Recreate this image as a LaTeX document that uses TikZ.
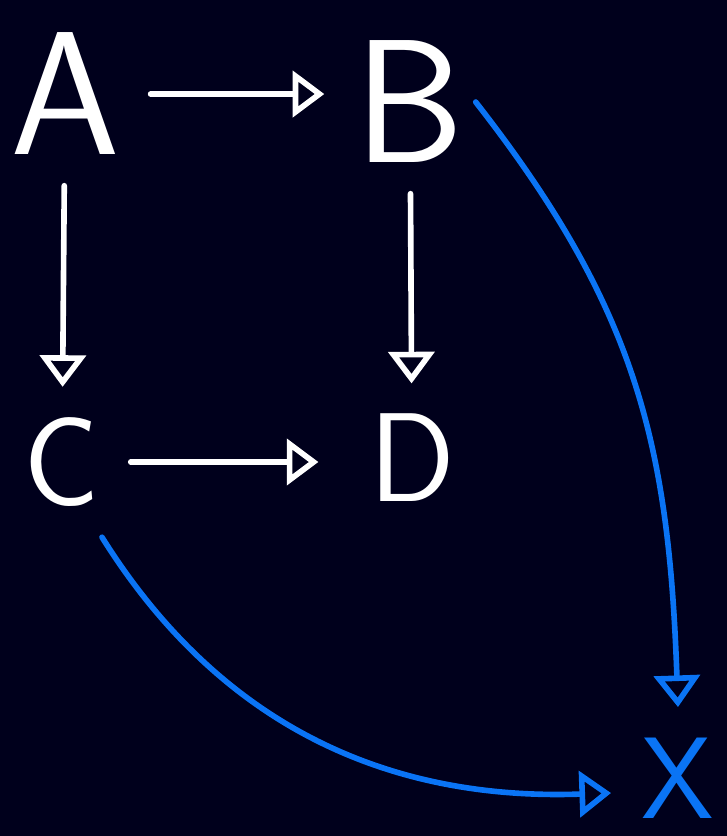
\documentclass[tikz,border=0pt]{standalone}
\usepackage{tikz}
\usepackage{xcolor}
\usetikzlibrary{arrows.meta,positioning,calc}
\definecolor{BG}{HTML}{00001C}
\definecolor{PB}{HTML}{0A74F5}

\begin{document}
\begin{tikzpicture}[x=1cm,y=-1cm,
    obj/.style={text=white, inner sep=0.3cm,
                font=\fontsize{50}{50}\selectfont\sffamily},
    objs/.style={obj, font=\fontsize{36}{36}\selectfont\sffamily},
    arr/.style={draw=white, line width=1.6pt, line cap=round,
                -{Triangle[open,length=9pt,width=13pt,line width=1.6pt]}},
    barr/.style={arr, draw=PB}]

        %% ── background ──
        \fill[BG] (0,0) rectangle (7.27,8.36);
        \useasboundingbox (0,0) rectangle (7.27,8.36);

        %% ── objects ──
        \node[obj]  (A) at (0.65,0.94) {A};
        \node[obj]  (B) at (4.10,1.02) {B};
        \node[objs] (C) at (0.62,4.62) {C};
        \node[objs] (D) at (4.12,4.58) {D};
        \node[objs, text=PB, font=\fontsize{33}{33}\selectfont\sffamily]
          (X) at (6.78,7.78) {X};

        %% ── white arrows ──
        \draw[arr] (A.east) -- (A.east -| B.west);
        \draw[arr] (A) -- (C);
        \draw[arr] (B) -- (D);
        \draw[arr, shorten >=0.2cm] (C.east) -- (C.east -| D.west);

        %% ── blue arrows ──
        \draw[barr] ([xshift=-0.2cm]B.east) to[out=-52, in=92, looseness=1.05] (X.north);
        \draw[barr] (C.-62) to[out=-58, in=182, looseness=1.0] ([yshift=-0.15cm]X.west);

      \end{tikzpicture}
\end{document}
